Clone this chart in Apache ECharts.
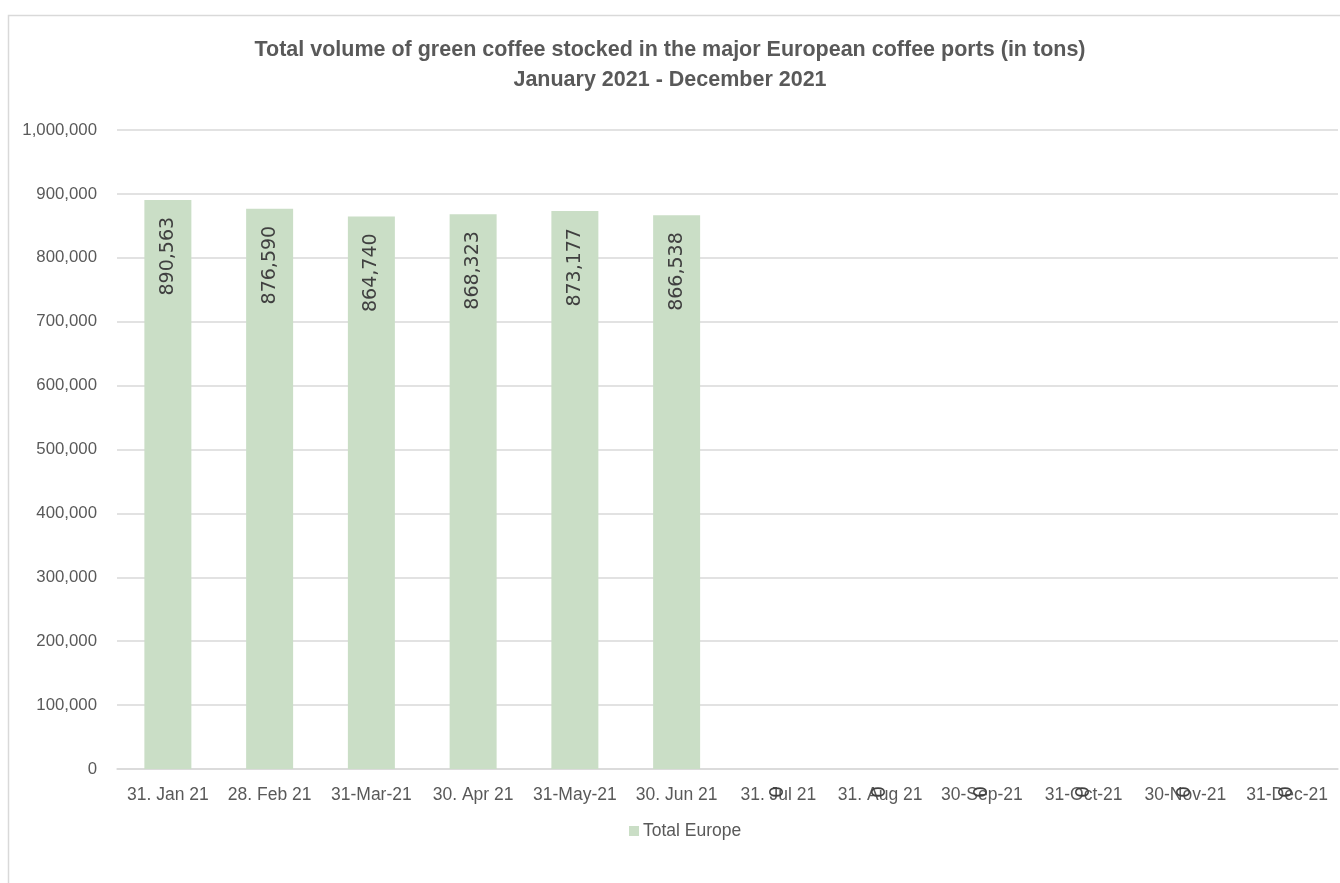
<!DOCTYPE html>
<html>
<head>
<meta charset="utf-8">
<script src="https://cdn.jsdelivr.net/npm/echarts@6/dist/echarts.min.js"></script>
<style>html,body{margin:0;padding:0;background:#fff;}#c{width:1340px;height:883px;}</style>
</head>
<body>
<div id="c"></div>
<script>
const categories = ['31. Jan 21','28. Feb 21','31-Mar-21','30. Apr 21','31-May-21','30. Jun 21','31. Jul 21','31. Aug 21','30-Sep-21','31-Oct-21','30-Nov-21','31-Dec-21'];
const totalEurope = [890563, 876590, 864740, 868323, 873177, 866538, 0, 0, 0, 0, 0, 0];
const yTicks = [0, 100000, 200000, 300000, 400000, 500000, 600000, 700000, 800000, 900000, 1000000];
const titleLines = ['Total volume of green coffee stocked in the major European coffee ports (in tons)', 'January 2021 - December 2021'];
const seriesName = 'Total Europe';

const chart = echarts.init(document.getElementById('c'), null, {renderer: 'canvas'});
const fmt = v => v.toLocaleString('en-US');
chart.setOption({
  animation: false,
  backgroundColor: '#ffffff',
  graphic: [{
    type: 'rect', left: 6, top: 13, silent: true,
    shape: {width: 1345, height: 880},
    style: {fill: 'none', stroke: '#d9d9d9', lineWidth: 1.5}
  }],
  title: {
    text: titleLines.join('\n'),
    left: 'center', top: 30,
    textStyle: {fontFamily: 'Liberation Sans, Arial, sans-serif', fontWeight: 'bold', fontSize: 21.5, color: '#595959', lineHeight: 30}
  },
  legend: {
    data: [seriesName], left: 624, top: 817,
    icon: 'rect', itemWidth: 10, itemHeight: 10, itemGap: 10,
    textStyle: {fontFamily: 'Liberation Sans, Arial, sans-serif', fontSize: 17.5, color: '#595959', padding: [0, 0, 0, -1]}
  },
  grid: {left: 117, right: 2, top: 130, bottom: 114, containLabel: false},
  xAxis: {
    type: 'category', data: categories,
    axisLine: {lineStyle: {color: '#d9d9d9', width: 1.5}},
    axisTick: {show: false},
    axisLabel: {interval: 0, margin: 17, fontFamily: 'Liberation Sans, Arial, sans-serif', fontSize: 17.5, color: '#595959'}
  },
  yAxis: {
    type: 'value', min: yTicks[0], max: yTicks[yTicks.length - 1], interval: yTicks[1] - yTicks[0],
    axisLine: {show: false}, axisTick: {show: false},
    splitLine: {lineStyle: {color: '#d9d9d9', width: 1.5}},
    axisLabel: {margin: 20, fontFamily: 'Liberation Sans, Arial, sans-serif', fontSize: 16.8, color: '#595959', formatter: v => fmt(v)}
  },
  series: [{
    name: seriesName, type: 'bar', data: totalEurope,
    barWidth: 47,
    itemStyle: {color: '#cadec6'},
    label: {
      show: true, position: 'insideTop', distance: 17, rotate: 90,
      align: 'right', verticalAlign: 'middle',
      fontFamily: 'DejaVu Sans, Verdana, sans-serif', fontSize: 19, color: '#404040',
      formatter: p => fmt(p.value)
    }
  }]
});
</script>
</body>
</html>
